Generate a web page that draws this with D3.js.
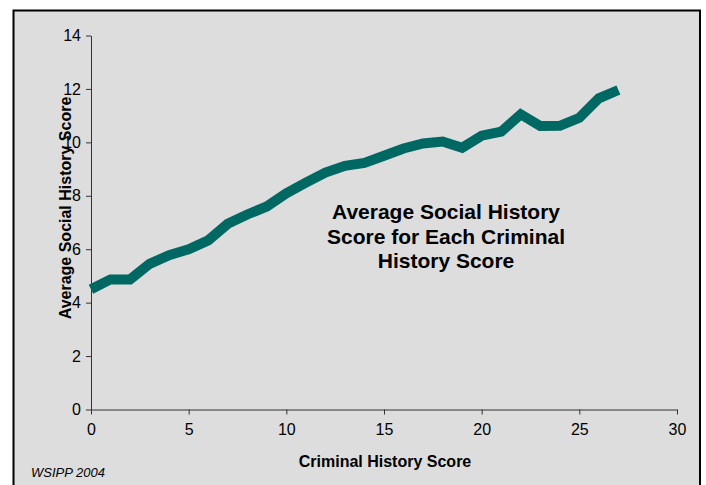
<!DOCTYPE html>
<html>
<head>
<meta charset="utf-8">
<script src="https://cdn.jsdelivr.net/npm/d3@7"></script>
<style>
  body { margin: 0; background: #fff; }
  text { font-family: Arial, "Liberation Sans", sans-serif; }
</style>
</head>
<body>
<div id="chart"></div>
<script>
// values
const criminalScore = [0,1,2,3,4,5,6,7,8,9,10,11,12,13,14,15,16,17,18,19,20,21,22,23,24,25,26,27];
const socialScore = [4.5,4.87,4.87,5.45,5.78,6.0,6.33,6.95,7.3,7.6,8.09,8.49,8.87,9.12,9.23,9.5,9.77,9.96,10.03,9.8,10.25,10.4,11.05,10.61,10.62,10.92,11.65,11.96];
const xTicks = [0,5,10,15,20,25,30];
const yTicks = [0,2,4,6,8,10,12,14];
const titleLines = ["Average Social History", "Score for Each Criminal", "History Score"];

const width = 706, height = 485;
const svg = d3.select("#chart").append("svg")
    .attr("width", width)
    .attr("height", height);

// chart area
svg.append("rect")
    .attr("x", 13.5).attr("y", 10.5)
    .attr("width", 686.5).attr("height", 490)
    .attr("fill", "#dddddd")
    .attr("stroke", "#000")
    .attr("stroke-width", 2);

const x = d3.scaleLinear().domain([0, 30]).range([91, 677]);
const y = d3.scaleLinear().domain([0, 14]).range([409.5, 35.5]);

const xAxis = svg.append("g")
    .attr("transform", `translate(0, ${y(0)})`)
    .call(d3.axisBottom(x).tickValues(xTicks).tickSize(5).tickPadding(9).tickSizeOuter(0));

const yAxis = svg.append("g")
    .attr("transform", `translate(${x(0)}, 0)`)
    .call(d3.axisLeft(y).tickValues(yTicks).tickSize(5).tickPadding(5).tickSizeOuter(0));

[xAxis, yAxis].forEach(g => {
    g.selectAll(".domain").attr("stroke", "#333").attr("stroke-width", 1);
    g.selectAll(".tick line").attr("stroke", "#333");
    g.selectAll("text")
        .attr("fill", "#000")
        .style("font-size", "16px")
        .style("font-family", "Arial, 'Liberation Sans', sans-serif");
});

const line = d3.line()
    .x((d, i) => x(criminalScore[i]))
    .y(d => y(d));

svg.append("path")
    .datum(socialScore)
    .attr("fill", "none")
    .attr("stroke", "#006863")
    .attr("stroke-width", 10)
    .attr("stroke-linejoin", "miter")
    .attr("stroke-linecap", "butt")
    .attr("d", line);

// in-chart title
svg.append("text")
    .attr("text-anchor", "middle")
    .style("font-size", "21px")
    .style("font-weight", "bold")
    .selectAll("tspan")
    .data(titleLines)
    .join("tspan")
    .attr("x", 446)
    .attr("y", (d, i) => 219 + i * 24.5)
    .text(d => d);

// axis titles
svg.append("text")
    .attr("x", 385).attr("y", 467)
    .attr("text-anchor", "middle")
    .style("font-size", "16px")
    .style("font-weight", "bold")
    .text("Criminal History Score");

svg.append("text")
    .attr("transform", "translate(71, 208) rotate(-90)")
    .attr("text-anchor", "middle")
    .style("font-size", "16px")
    .style("font-weight", "bold")
    .text("Average Social History Score");

svg.append("text")
    .attr("x", 31).attr("y", 477)
    .style("font-size", "13px")
    .style("font-style", "italic")
    .text("WSIPP 2004");
</script>
</body>
</html>
